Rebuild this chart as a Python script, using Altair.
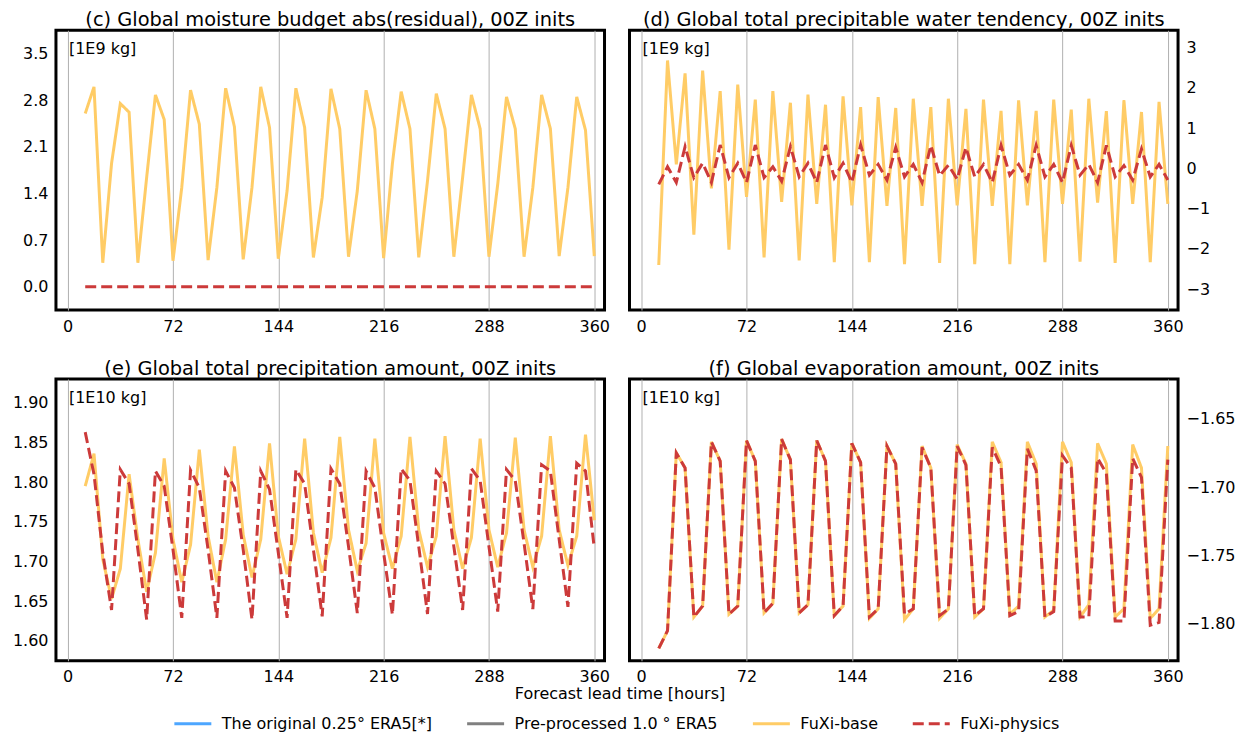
import altair as alt
import pandas as pd

FONT = "DejaVu Sans"

LEAD_HOURS = [12, 18, 24, 30, 36, 42, 48, 54, 60, 66, 72, 78, 84, 90, 96, 102,
              108, 114, 120, 126, 132, 138, 144, 150, 156, 162, 168, 174, 180,
              186, 192, 198, 204, 210, 216, 222, 228, 234, 240, 246, 252, 258,
              264, 270, 276, 282, 288, 294, 300, 306, 312, 318, 324, 330, 336,
              342, 348, 354, 360]

SERIES = ["The original 0.25° ERA5[*]", "Pre-processed 1.0\u00a0° ERA5",
          "FuXi-base", "FuXi-physics"]
COLORS = ["#4da6ff", "#808080", "#ffcc66", "#cc3a3a"]
DASHES = [[1, 0], [1, 0], [1, 0], [11, 5]]
X_TICKS = [0, 72, 144, 216, 288, 360]

# (c) moisture budget abs(residual) [1E9 kg]
C_BASE = [2.60, 3.00, 0.36, 1.85, 2.75, 2.62, 0.36, 1.64, 2.88, 2.51, 0.39, 1.49,
          2.95, 2.44, 0.40, 1.49, 2.98, 2.40, 0.41, 1.49, 3.00, 2.39, 0.42, 1.44,
          2.98, 2.39, 0.44, 1.34, 2.97, 2.37, 0.45, 1.44, 2.95, 2.37, 0.43, 1.85,
          2.93, 2.37, 0.44, 1.59, 2.90, 2.37, 0.45, 1.64, 2.88, 2.37, 0.45, 1.54,
          2.85, 2.37, 0.45, 1.49, 2.88, 2.37, 0.46, 1.49, 2.85, 2.35, 0.46]
C_PHYS = [0.0, 0.0, 0.0, 0.0, 0.0, 0.0, 0.0, 0.0, 0.0, 0.0, 0.0, 0.0,
          0.0, 0.0, 0.0, 0.0, 0.0, 0.0, 0.0, 0.0, 0.0, 0.0, 0.0, 0.0,
          0.0, 0.0, 0.0, 0.0, 0.0, 0.0, 0.0, 0.0, 0.0, 0.0, 0.0, 0.0,
          0.0, 0.0, 0.0, 0.0, 0.0, 0.0, 0.0, 0.0, 0.0, 0.0, 0.0, 0.0,
          0.0, 0.0, 0.0, 0.0, 0.0, 0.0, 0.0, 0.0, 0.0, 0.0, 0.0]

# (d) total precipitable water tendency [1E9 kg]
D_BASE = [-2.40, 2.68, 0.10, 2.36, -1.65, 2.43, -0.50, 1.92, -2.02, 2.08, -0.71, 1.71,
          -2.21, 1.92, -0.83, 1.63, -2.29, 1.83, -0.88, 1.58, -2.33, 1.79, -0.92, 1.52,
          -2.33, 1.77, -0.93, 1.50, -2.38, 1.73, -0.93, 1.52, -2.35, 1.73, -0.92, 1.48,
          -2.38, 1.71, -0.93, 1.43, -2.38, 1.69, -0.92, 1.43, -2.33, 1.71, -0.88, 1.46,
          -2.32, 1.73, -0.85, 1.42, -2.35, 1.69, -0.88, 1.40, -2.33, 1.65, -0.88]
D_PHYS = [-0.40, 0.04, -0.35, 0.54, -0.23, 0.13, -0.35, 0.58, -0.23, 0.13, -0.35, 0.58,
          -0.23, 0.04, -0.32, 0.54, -0.21, 0.13, -0.35, 0.58, -0.23, 0.13, -0.35, 0.58,
          -0.17, 0.10, -0.29, 0.52, -0.21, 0.10, -0.35, 0.57, -0.18, 0.08, -0.27, 0.52,
          -0.21, 0.10, -0.35, 0.57, -0.17, 0.10, -0.29, 0.57, -0.21, 0.10, -0.35, 0.57,
          -0.17, 0.10, -0.35, 0.57, -0.21, 0.07, -0.29, 0.48, -0.21, 0.10, -0.29]

# (e) total precipitation amount [1E10 kg]
E_BASE = [1.795, 1.836, 1.703, 1.653, 1.691, 1.810, 1.728, 1.662, 1.711, 1.830, 1.728, 1.674,
          1.721, 1.841, 1.732, 1.674, 1.728, 1.845, 1.734, 1.680, 1.728, 1.849, 1.732, 1.684,
          1.728, 1.855, 1.736, 1.686, 1.730, 1.857, 1.740, 1.688, 1.723, 1.855, 1.736, 1.691,
          1.732, 1.857, 1.740, 1.693, 1.732, 1.858, 1.740, 1.691, 1.730, 1.855, 1.740, 1.693,
          1.736, 1.856, 1.740, 1.693, 1.732, 1.858, 1.740, 1.695, 1.732, 1.860, 1.752]
E_PHYS = [1.863, 1.810, 1.711, 1.639, 1.816, 1.798, 1.715, 1.627, 1.814, 1.795, 1.715, 1.629,
          1.815, 1.793, 1.715, 1.629, 1.814, 1.793, 1.715, 1.627, 1.814, 1.791, 1.711, 1.629,
          1.816, 1.798, 1.715, 1.631, 1.817, 1.798, 1.719, 1.635, 1.814, 1.793, 1.711, 1.633,
          1.817, 1.802, 1.719, 1.634, 1.814, 1.798, 1.719, 1.639, 1.817, 1.802, 1.719, 1.637,
          1.816, 1.802, 1.723, 1.640, 1.822, 1.814, 1.728, 1.643, 1.824, 1.814, 1.717]

# (f) evaporation amount [1E10 kg]
F_BASE = [-1.818, -1.805, -1.675, -1.686, -1.795, -1.787, -1.667, -1.681, -1.793, -1.787, -1.666, -1.681,
          -1.792, -1.785, -1.665, -1.680, -1.792, -1.786, -1.666, -1.681, -1.794, -1.787, -1.668, -1.682,
          -1.796, -1.789, -1.670, -1.683, -1.797, -1.789, -1.670, -1.686, -1.796, -1.789, -1.669, -1.683,
          -1.795, -1.789, -1.667, -1.682, -1.793, -1.787, -1.667, -1.683, -1.795, -1.790, -1.667, -1.682,
          -1.795, -1.786, -1.668, -1.683, -1.795, -1.789, -1.669, -1.686, -1.796, -1.789, -1.670]
F_PHYS = [-1.818, -1.805, -1.675, -1.686, -1.795, -1.787, -1.667, -1.681, -1.793, -1.787, -1.666, -1.681,
          -1.792, -1.785, -1.665, -1.680, -1.792, -1.786, -1.666, -1.681, -1.794, -1.787, -1.668, -1.682,
          -1.795, -1.789, -1.670, -1.683, -1.793, -1.789, -1.671, -1.686, -1.794, -1.789, -1.670, -1.684,
          -1.794, -1.789, -1.671, -1.685, -1.794, -1.791, -1.672, -1.688, -1.795, -1.791, -1.677, -1.686,
          -1.795, -1.795, -1.679, -1.690, -1.798, -1.798, -1.679, -1.693, -1.801, -1.799, -1.680]

LEGEND = alt.Legend(
    title=None, orient="none", legendX=117, legendY=674, direction="horizontal",
    columns=4, symbolType="stroke", symbolSize=1369, symbolStrokeWidth=3,
    labelFont=FONT, labelFontSize=16, labelColor="black", labelOffset=9,
    columnPadding=28, padding=0, labelLimit=500,
)


def panel(base_vals, phys_vals, title, unit, ydomain, yticks, yfmt, yorient, height,
          xtitle=None):
    n = len(LEAD_HOURS)
    df = pd.DataFrame({
        "hour": LEAD_HOURS + LEAD_HOURS,
        "value": list(base_vals) + list(phys_vals),
        "series": ["FuXi-base"] * n + ["FuXi-physics"] * n,
    })
    xaxis_kw = dict(values=X_TICKS, grid=True, format="d", labelFlush=False,
                    labelOverlap=False)
    if xtitle:
        xaxis_kw.update(title=xtitle, titleX=564, titleY=38, titleAlign="center",
                        titleBaseline="alphabetic")
    else:
        xaxis_kw.update(title=None)
    enc = dict(
        x=alt.X("hour:Q", scale=alt.Scale(domain=[-8, 367], nice=False, zero=False),
                axis=alt.Axis(**xaxis_kw)),
        y=alt.Y("value:Q", scale=alt.Scale(domain=ydomain, nice=False, zero=False),
                axis=alt.Axis(values=yticks, format=yfmt, orient=yorient, title=None,
                              grid=False, labelFlush=False, labelOverlap=False)),
        color=alt.Color("series:N", scale=alt.Scale(domain=SERIES, range=COLORS),
                        legend=LEGEND),
        strokeDash=alt.StrokeDash("series:N", scale=alt.Scale(domain=SERIES, range=DASHES),
                                  legend=LEGEND),
    )
    base = alt.Chart(df).transform_filter(alt.datum.series == "FuXi-base").mark_line(
        strokeWidth=3, strokeJoin="miter").encode(**enc)
    phys = alt.Chart(df).transform_filter(alt.datum.series == "FuXi-physics").mark_line(
        strokeWidth=3, strokeJoin="miter").encode(**enc)
    label = alt.Chart(pd.DataFrame({"unit": [unit]})).mark_text(
        align="left", baseline="top", font=FONT, fontSize=16, color="black"
    ).encode(x=alt.value(13), y=alt.value(11), text="unit:N")
    return alt.layer(base, phys, label).properties(
        width=549, height=height,
        title=alt.TitleParams(title, font=FONT, fontSize=19.4, fontWeight="normal",
                              anchor="middle", offset=0, color="black"),
    )


c = panel(C_BASE, C_PHYS, "(c) Global moisture budget abs(residual), 00Z inits", "[1E9 kg]",
          [-0.35, 3.85], [0.0, 0.7, 1.4, 2.1, 2.8, 3.5], ".1f", "left", 280)
d = panel(D_BASE, D_PHYS, "(d) Global total precipitable water tendency, 00Z inits", "[1E9 kg]",
          [-3.52, 3.43], [-3, -2, -1, 0, 1, 2, 3], "d", "right", 280)
e = panel(E_BASE, E_PHYS, "(e) Global total precipitation amount, 00Z inits", "[1E10 kg]",
          [1.575, 1.93], [1.60, 1.65, 1.70, 1.75, 1.80, 1.85, 1.90], ".2f", "left", 282,
          xtitle="Forecast lead time [hours]")
f = panel(F_BASE, F_PHYS, "(f) Global evaporation amount, 00Z inits", "[1E10 kg]",
          [-1.827, -1.621], [-1.80, -1.75, -1.70, -1.65], ".2f", "right", 282)

chart = alt.concat(c, d, e, f, columns=2, spacing={"row": 69, "column": 25},
                   bounds="flush").properties(
    padding={"left": 2, "top": 0, "right": 5, "bottom": 5},
).configure_view(
    stroke="black", strokeWidth=3,
).configure_axis(
    labelFont=FONT, labelFontSize=16, labelColor="black", domain=False, ticks=False,
    tickSize=0, labelPadding=8, gridColor="#b0b0b0", gridWidth=1,
    titleFont=FONT, titleFontSize=16, titleFontWeight="normal", titleColor="black",
).configure_title(
    font=FONT, fontSize=19.4, fontWeight="normal", color="black",
)

chart.save("out.html", embed_options={"renderer": "svg", "actions": False})
